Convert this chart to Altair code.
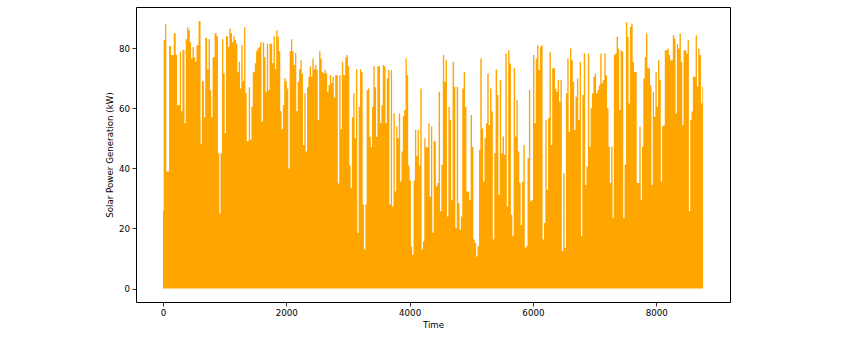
import altair as alt
import pandas as pd

# Daily peak readings (segment start hour, peak kW)
h1 = [0, 11, 33, 54, 98, 130, 174, 206, 228, 272, 293, 315, 348, 369, 391, 413, 435, 456, 478, 500,
      522, 543, 576, 609, 630, 663, 685, 717, 739, 761, 782, 804, 837, 869, 891, 913, 934, 956, 978, 1000,
      1021, 1054, 1076, 1098, 1119, 1141, 1163, 1184, 1206, 1228, 1250, 1271, 1293, 1315, 1337, 1358, 1391, 1413, 1434, 1456]
v1 = [26, 82.7, 88, 39, 80.7, 77.7, 85, 77.7, 61, 78.8, 59, 79.5, 55, 83, 87, 86, 82, 76.6, 80.4, 77,
      75.5, 81, 89, 48, 69, 57, 83.5, 73, 83, 66, 57, 77, 85, 84, 45, 25, 45, 83, 71.6, 51.7,
      84, 80.4, 86.5, 85, 82, 84, 82.7, 81.5, 72, 75.5, 66.6, 81, 69, 87, 65, 49, 67, 49.5, 60.5, 72]

h2 = [1489, 1510, 1532, 1554, 1576, 1597, 1619, 1641, 1663, 1684, 1706, 1728, 1750, 1771, 1793, 1815, 1836,
      1858, 1880, 1902, 1923, 1945, 1967, 1989, 2010, 2032, 2054, 2076, 2097, 2119, 2141, 2162, 2184, 2206,
      2228, 2249, 2271, 2293, 2315, 2336, 2358, 2380, 2402, 2423, 2445, 2467, 2488, 2510, 2532, 2554, 2575,
      2597, 2619, 2641, 2662, 2684, 2706, 2728, 2749, 2771, 2793, 2814, 2836, 2858, 2880, 2901, 2923]
v2 = [75, 79, 80, 80.4, 82, 55.5, 82, 77, 65.5, 81.5, 66, 81.5, 81.5, 75, 84, 73, 86,
      83.8, 79, 59, 53, 61, 70, 69, 66.6, 40, 79, 83, 79, 74.4, 78.5, 59, 68.8, 73,
      76, 71.6, 47.8, 65, 45.6, 67, 70.5, 74, 70.5, 76.6, 73, 74.4, 72.7, 56, 79, 76.6, 72,
      71.6, 72.7, 71.6, 65.5, 67.7, 71, 68.3, 70.5, 63.6, 71, 71, 35, 71, 53, 75.5, 71]

h3 = [2956, 2977, 2999, 3021, 3043, 3064, 3086, 3108, 3130, 3151, 3173, 3195, 3217, 3238, 3260, 3282, 3303,
      3325, 3347, 3369, 3390, 3412, 3434, 3456, 3477, 3499, 3521, 3543, 3564, 3586, 3608, 3630, 3651, 3673,
      3695, 3716, 3738, 3760, 3782, 3803, 3825, 3847, 3869, 3890, 3912, 3934, 3955, 3977, 3999, 4021, 4042,
      4064, 4086, 4108, 4129, 4151, 4173, 4195, 4216, 4238, 4260, 4282, 4303, 4325, 4347, 4368, 4390]
v3 = [77, 77.7, 74, 41, 33.4, 57, 65, 50, 73, 18.5, 60.5, 73, 72, 28, 13, 28, 66,
      66.6, 50.5, 47, 60.5, 74, 67, 50.5, 74, 74, 55, 61, 74.4, 74, 55, 70, 72.7, 28,
      72.7, 27.3, 58.3, 32.3, 54, 50, 58.3, 35.6, 45.6, 57.4, 59.4, 76.6, 71, 41, 36, 14, 11.3,
      36, 52.8, 44, 52.8, 41, 66.6, 13, 15.7, 50, 47, 47, 55, 30.6, 54, 18.6, 49]

h4 = [4426, 4449, 4471, 4494, 4516, 4539, 4561, 4584, 4606, 4629, 4652, 4674, 4697, 4719, 4742, 4764,
      4787, 4809, 4832, 4854, 4877, 4899, 4922, 4945, 4967, 4990, 5012, 5035, 5057, 5080, 5102, 5125,
      5147, 5170, 5193, 5215, 5238, 5260, 5283, 5305, 5328, 5350, 5373, 5395, 5418, 5440, 5463, 5486,
      5508, 5531, 5553, 5576, 5598, 5621, 5643, 5666, 5688, 5711, 5733, 5756, 5779, 5801, 5824, 5846]
v4 = [34.0, 35.1, 65.5, 25.7, 41.2, 77.7, 68.8, 76.0, 24.0, 60.5, 56.1, 29.5, 75.5, 67.2, 20.1, 67.2,
      28.4, 19.6, 24.0, 66.6, 72.1, 60.5, 32.3, 32.3, 29.5, 57.8, 47.2, 16.3, 15.2, 10.7, 14.1, 46.1,
      76.6, 53.3, 35.6, 50.0, 55.0, 71.6, 54.4, 66.6, 58.9, 16.3, 45.0, 72.9, 64.4, 31.2, 69.4, 45.0,
      50.6, 44.5, 78.2, 27.3, 79.3, 74.9, 24.6, 17.4, 73.3, 50.6, 62.7, 45.6, 35.1, 21.2, 35.6, 47.8]

h5 = [5868, 5890, 5913, 5935, 5957, 5979, 6002, 6024, 6046, 6068, 6090, 6113, 6135, 6157, 6180, 6202,
      6224, 6246, 6269, 6291, 6313, 6335, 6358, 6380, 6402, 6424, 6447, 6469, 6491, 6513, 6536, 6558,
      6580, 6602, 6624, 6647, 6669, 6691, 6714, 6736, 6758, 6780, 6802, 6825, 6847, 6869, 6892, 6914,
      6936, 6958, 6981, 7003, 7025, 7047, 7070, 7092, 7114, 7136, 7159, 7181, 7203, 7226, 7248, 7270, 7292]
v5 = [13.5, 14.1, 43.4, 66.1, 29.0, 29.5, 77.7, 55.0, 76.6, 81.0, 72.7, 80.4, 81.0, 16.3, 21.8, 56.1,
      32.9, 56.7, 78.8, 47.8, 73.3, 73.3, 66.6, 65.5, 69.4, 62.2, 69.4, 12.4, 38.4, 13.5, 65.0, 76.6,
      52.2, 79.9, 76.0, 68.8, 52.8, 63.8, 69.9, 56.1, 75.5, 17.4, 64.4, 78.2, 34.5, 40.6, 78.2, 47.2,
      60.0, 65.0, 70.5, 71.6, 65.0, 66.1, 67.7, 78.2, 68.3, 69.4, 78.2, 71.0, 60.0, 47.2, 35.1, 47.2, 23.5]

h6 = [7313, 7335, 7357, 7379, 7400, 7422, 7444, 7465, 7487, 7509, 7531, 7552, 7574, 7596, 7618, 7639,
      7661, 7683, 7704, 7726, 7748, 7770, 7791, 7813, 7835, 7857, 7878, 7900, 7922, 7944, 7965, 7987,
      8009, 8030, 8052, 8074, 8096, 8117, 8139, 8161, 8183, 8204, 8226, 8248, 8269, 8291, 8313, 8335,
      8356, 8378, 8400, 8422, 8443, 8465, 8487, 8509, 8530, 8552, 8574, 8595, 8617, 8639, 8661, 8682,
      8704, 8726, 8748]
v6 = [77.7, 78.2, 83.8, 79.9, 59.4, 79.3, 78.8, 23.5, 41.2, 88.7, 83.8, 61.6, 87.1, 88.2, 75.5, 72.1,
      72.1, 35.1, 35.1, 53.9, 29.5, 47.2, 69.9, 77.1, 84.9, 73.3, 73.3, 67.7, 34.5, 65.5, 57.2, 72.1,
      60.5, 76.0, 69.4, 35.6, 53.9, 54.4, 79.3, 79.3, 79.9, 77.7, 76.0, 76.0, 84.3, 83.2, 58.3, 81.5,
      79.9, 84.9, 75.5, 54.4, 79.3, 79.3, 78.2, 82.7, 25.7, 56.1, 58.9, 70.5, 70.5, 84.3, 67.2, 79.9,
      77.7, 61.6, 67.2]

x_ticks = [0, 2000, 4000, 6000, 8000]
y_ticks = [0, 20, 40, 60, 80]
end_hour = 8760

hours = h1 + h2 + h3 + h4 + h5 + h6
kw = v1 + v2 + v3 + v4 + v5 + v6
for h, v in [(h1, v1), (h2, v2), (h3, v3), (h4, v4), (h5, v5), (h6, v6)]:
    assert len(h) == len(v), (len(h), len(v))

df = pd.DataFrame({"Time": hours + [end_hour], "kW": kw + [kw[-1]]})

FONT = "DejaVu Sans"

chart = alt.Chart(df).mark_area(
    interpolate="step-after", color="#FFA500", opacity=1
).encode(
    x=alt.X("Time:Q",
            scale=alt.Scale(domain=[-438, 9197], nice=False, zero=False),
            axis=alt.Axis(values=x_ticks, format="d", title="Time")),
    y=alt.Y("kW:Q",
            scale=alt.Scale(domain=[-4.46, 93.7], nice=False, zero=False),
            axis=alt.Axis(values=y_ticks, format="d", title="Solar Power Generation (kW)")),
    y2=alt.datum(0),
).properties(
    width=594, height=295,
    autosize="none",
    padding={"left": 136, "top": 7, "right": 116, "bottom": 36},
).configure_view(
    stroke="#000000", strokeWidth=1
).configure_axis(
    domain=False, grid=False,
    tickColor="#000000", tickSize=4, tickWidth=0.8,
    labelFont=FONT, labelFontSize=8.7, labelColor="#000000", labelPadding=2.5,
    titleFont=FONT, titleFontSize=8.7, titleFontWeight="normal", titleColor="#000000",
).configure_axisX(
    titlePadding=3
).configure_axisY(
    titlePadding=4
)

chart.save("out.html", embed_options={"renderer": "svg", "actions": False})
